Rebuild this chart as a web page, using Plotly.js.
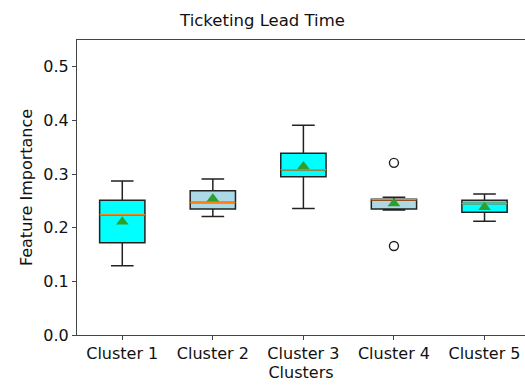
<!DOCTYPE html>
<html><head><meta charset="utf-8">
<script src="https://cdn.plot.ly/plotly-3.0.1.min.js"></script>
<style>html,body{margin:0;padding:0;background:#fff}#c{width:525px;height:385px}</style>
</head><body><div id="c"></div>
<script>
const categories = ["Cluster 1","Cluster 2","Cluster 3","Cluster 4","Cluster 5"];
const lowerWhisker = [0.129, 0.221, 0.236, 0.233, 0.212];
const q1 = [0.172, 0.235, 0.295, 0.235, 0.229];
const median = [0.224, 0.247, 0.308, 0.252, 0.245];
const q3 = [0.251, 0.269, 0.339, 0.253, 0.251];
const upperWhisker = [0.287, 0.291, 0.391, 0.257, 0.263];
const means = [0.211, 0.254, 0.314, 0.245, 0.238];
const outlierCluster = [4, 4];
const outlierValues = [0.321, 0.166];
const fills = ["#00ffff","#add8e6","#00ffff","#add8e6","#00ffff"];

const pos = categories.map((c,i)=>i+1);
const traces = [];
categories.forEach((c,i)=>{
  traces.push({type:'box', x:[pos[i]], q1:[q1[i]], median:[median[i]], q3:[q3[i]],
    lowerfence:[lowerWhisker[i]], upperfence:[upperWhisker[i]],
    width:0.5, whiskerwidth:0.5, fillcolor:fills[i],
    line:{color:'#222', width:1.5}, hoverinfo:'skip', showlegend:false});
  traces.push({type:'scatter', mode:'lines', x:[pos[i]-0.25, pos[i]+0.25], y:[median[i], median[i]],
    line:{color:'#ff7f0e', width:1.5}, showlegend:false, hoverinfo:'skip'});
});
traces.push({type:'scatter', mode:'markers', x:pos, y:means,
  marker:{symbol:'triangle-up', color:'#2ca02c', size:11}, showlegend:false});
traces.push({type:'scatter', mode:'markers', x:outlierCluster, y:outlierValues,
  marker:{symbol:'circle-open', color:'#222', size:9, line:{width:1.4}}, showlegend:false});

const font = {family:'DejaVu Sans', color:'#111'};
Plotly.newPlot('c', traces, {
  width:525, height:385,
  margin:{l:77, r:0, t:40, b:50},
  paper_bgcolor:'#fff', plot_bgcolor:'#fff',
  font:Object.assign({size:16}, font),
  title:{text:'Ticketing Lead Time', font:Object.assign({size:16.5}, font), x:0.5, xanchor:'center', y:0.948, yanchor:'middle'},
  xaxis:{range:[0.5, 5.447], tickmode:'array', tickvals:pos, ticktext:categories,
    showgrid:false, zeroline:false, showline:true, mirror:true, linecolor:'#444', linewidth:1,
    ticks:'outside', ticklen:4, tickcolor:'#444', tickfont:Object.assign({size:16}, font),
    title:{text:'Clusters', font:Object.assign({size:16}, font), standoff:2}},
  yaxis:{range:[0, 0.55], tickmode:'array', tickvals:[0,0.1,0.2,0.3,0.4,0.5],
    ticktext:['0.0','0.1','0.2','0.3','0.4','0.5'],
    showgrid:false, zeroline:false, showline:true, linecolor:'#444', linewidth:1,
    ticks:'outside', ticklen:4, tickcolor:'#444', tickfont:Object.assign({size:16}, font),
    title:{text:'Feature Importance', font:Object.assign({size:16}, font), standoff:6}}
}, {displayModeBar:false, staticPlot:true});
</script></body></html>
